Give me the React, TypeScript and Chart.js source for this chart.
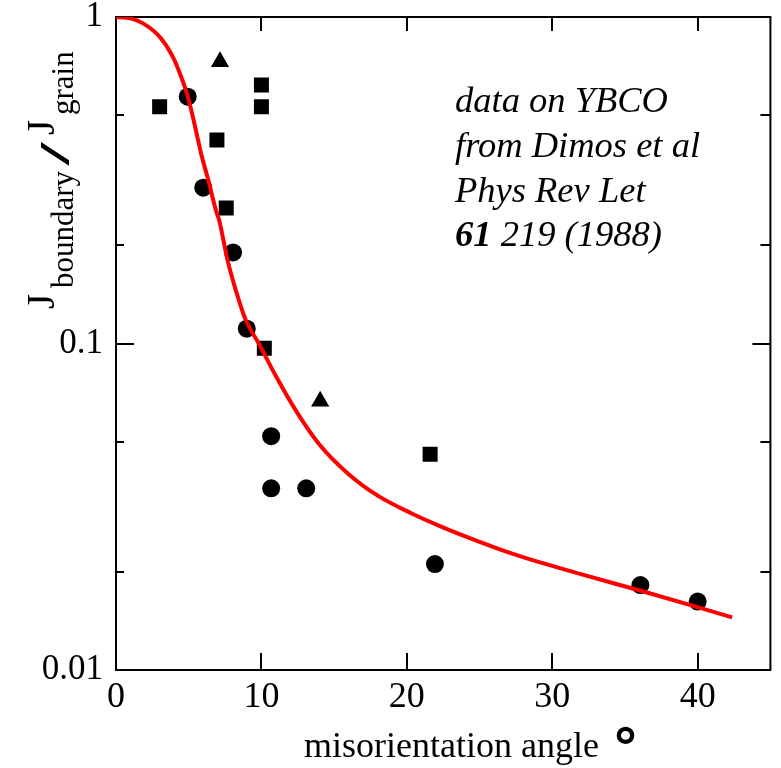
import React, { useEffect, useRef } from 'react';
import { Chart, registerables } from 'chart.js';

Chart.register(...registerables);

// Measured data (misorientation angle in degrees, J_boundary / J_grain)
const circleX = [4.93, 6.0, 8.05, 8.99, 10.67, 10.67, 13.08, 21.93, 36.06, 40.0];
const circleY = [0.57, 0.3, 0.19, 0.111, 0.052, 0.036, 0.036, 0.0211, 0.0182, 0.0162];

const squareX = [3.0, 10.0, 10.0, 6.94, 7.58, 10.2, 21.6];
const squareY = [0.531, 0.619, 0.531, 0.42, 0.26, 0.0967, 0.0458];

const triangleX = [7.15, 14.04];
const triangleY = [0.73, 0.0665];

// Red fit curve
const fitX = [0, 1.0, 1.86, 3.0, 3.91, 4.48, 4.94, 5.39, 5.85, 6.35, 6.87, 7.1, 7.67, 8.24, 8.92, 9.83, 11.0, 12.5, 14.0, 16.0, 18.0, 20.3, 22.6, 25.0, 27.4, 31.9, 36.45, 42.37];
const fitY = [1.0, 0.99, 0.956, 0.87, 0.755, 0.656, 0.57, 0.472, 0.382, 0.316, 0.256, 0.238, 0.18, 0.1455, 0.118, 0.0998, 0.0794, 0.061, 0.049, 0.0398, 0.0342, 0.0302, 0.0272, 0.0247, 0.0226, 0.0197, 0.0173, 0.0145];

// Axis ticks
const xTickMarks = [10, 20, 30, 40];
const yMajorValues = [1, 0.1, 0.01];
const yMajorLabels = ['1', '0.1', '0.01'];
const yMinorValues = [0.5, 0.2, 0.05, 0.02];

const annotationLines = ['data on YBCO', 'from Dimos et al', 'Phys Rev Let'];
const annotationBold = '61';
const annotationRest = ' 219 (1988)';
const xTitle = 'misorientation angle';
const degreeMark = '°';

const SERIF = "'Liberation Serif', 'Times New Roman', serif";

const toPoints = (xs: number[], ys: number[]) => xs.map((x, i) => ({ x, y: ys[i] }));

const decorPlugin = {
  id: 'decor',
  beforeDatasetsDraw(chart: any) {
    const { ctx, chartArea: a, scales } = chart;
    const xs = scales.x;
    const ys = scales.y;
    ctx.save();
    ctx.strokeStyle = '#000';
    ctx.lineWidth = 2;
    ctx.strokeRect(a.left, a.top, a.right - a.left, a.bottom - a.top);
    ctx.beginPath();
    for (const v of xTickMarks) {
      const px = Math.round(xs.getPixelForValue(v));
      ctx.moveTo(px, a.bottom);
      ctx.lineTo(px, a.bottom - 17);
      ctx.moveTo(px, a.top);
      ctx.lineTo(px, a.top + 14);
    }
    for (const v of yMajorValues) {
      const py = Math.round(ys.getPixelForValue(v));
      ctx.moveTo(a.left, py);
      ctx.lineTo(a.left + 18, py);
      ctx.moveTo(a.right, py);
      ctx.lineTo(a.right - 18, py);
    }
    for (const v of yMinorValues) {
      const py = Math.round(ys.getPixelForValue(v));
      ctx.moveTo(a.left, py);
      ctx.lineTo(a.left + 8, py);
      ctx.moveTo(a.right, py);
      ctx.lineTo(a.right - 10, py);
    }
    ctx.stroke();
    ctx.restore();
  },
  afterDraw(chart: any) {
    const { ctx } = chart;
    ctx.save();
    ctx.fillStyle = '#000';
    ctx.textBaseline = 'alphabetic';
    ctx.textAlign = 'left';

    // annotation
    const baseX = 455;
    const baselines = [112, 157, 202, 246];
    ctx.font = `italic 36.5px ${SERIF}`;
    annotationLines.forEach((t, i) => ctx.fillText(t, baseX, baselines[i]));
    ctx.font = `italic bold 36.5px ${SERIF}`;
    ctx.fillText(annotationBold, baseX, baselines[3]);
    const w = ctx.measureText(annotationBold).width;
    ctx.font = `italic 36.5px ${SERIF}`;
    ctx.fillText(annotationRest, baseX + w, baselines[3]);

    // x-axis title
    ctx.font = `36px ${SERIF}`;
    ctx.fillText(xTitle, 304, 757);
    ctx.font = `bold 54px 'DejaVu Sans', sans-serif`;
    ctx.fillText(degreeMark, 612, 767);

    // y-axis title (rotated, with subscripts)
    ctx.translate(0, 310);
    ctx.rotate(-Math.PI / 2);
    ctx.font = `39px ${SERIF}`;
    ctx.fillText('J', 1, 54);
    ctx.font = `31px ${SERIF}`;
    ctx.fillText('boundary', 22, 73);
    ctx.font = `bold 42px ${SERIF}`;
    ctx.save();
    ctx.translate(145, 69);
    ctx.scale(1.9, 1);
    ctx.fillText('/', 0, 0);
    ctx.restore();
    ctx.font = `39px ${SERIF}`;
    ctx.fillText('J', 175, 54);
    ctx.font = `31px ${SERIF}`;
    ctx.fillText('grain', 195, 73);
    ctx.restore();
  },
};

export default function App() {
  const ref = useRef<HTMLCanvasElement>(null);

  useEffect(() => {
    if (!ref.current) return;
    const chart = new Chart(ref.current, {
      type: 'scatter',
      data: {
        datasets: [
          {
            type: 'line',
            label: 'fit',
            data: toPoints(fitX, fitY),
            borderColor: '#ff0000',
            borderWidth: 4,
            pointRadius: 0,
            fill: false,
            cubicInterpolationMode: 'monotone',
            order: 0,
          } as any,
          {
            label: 'circles',
            data: toPoints(circleX, circleY),
            pointStyle: 'circle',
            pointRadius: 9,
            backgroundColor: '#000',
            borderWidth: 0,
            order: 1,
          },
          {
            label: 'squares',
            data: toPoints(squareX, squareY),
            pointStyle: 'rect',
            pointRadius: 10.6,
            backgroundColor: '#000',
            borderWidth: 0,
            order: 1,
          },
          {
            label: 'triangles',
            data: toPoints(triangleX, triangleY),
            pointStyle: 'triangle',
            pointRadius: 10.5,
            backgroundColor: '#000',
            borderWidth: 0,
            order: 1,
          },
        ],
      },
      options: {
        animation: false,
        responsive: true,
        maintainAspectRatio: false,
        layout: { padding: { top: 17, right: 7, left: 0, bottom: 0 } },
        plugins: {
          legend: { display: false },
          tooltip: { enabled: false },
        },
        scales: {
          x: {
            type: 'linear',
            min: 0,
            max: 45,
            border: { display: false },
            grid: { display: false, drawTicks: false },
            ticks: {
              stepSize: 10,
              includeBounds: false,
              maxRotation: 0,
              autoSkip: false,
              padding: 6,
              color: '#000',
              font: { family: SERIF, size: 36 },
            },
            afterFit: (s: any) => {
              s.height = 98;
              s.paddingLeft = 0;
              s.paddingRight = 0;
            },
          },
          y: {
            type: 'logarithmic',
            min: 0.01,
            max: 1,
            border: { display: false },
            grid: { display: false, drawTicks: false },
            ticks: {
              autoSkip: false,
              padding: 13,
              color: '#000',
              font: { family: SERIF, size: 35 },
              callback: (value: any) => {
                const v = Number(value);
                const idx = yMajorValues.findIndex((m) => Math.abs(m - v) / m < 1e-6);
                return idx >= 0 ? yMajorLabels[idx] : '';
              },
            },
            afterFit: (s: any) => {
              s.width = 116;
              s.paddingTop = 0;
              s.paddingBottom = 0;
            },
          },
        },
      } as any,
      plugins: [decorPlugin],
    });
    return () => chart.destroy();
  }, []);

  return (
    <div style={{ position: 'absolute', left: 0, top: 0, width: 781, height: 768, background: '#fff' }}>
      <canvas ref={ref} />
    </div>
  );
}
